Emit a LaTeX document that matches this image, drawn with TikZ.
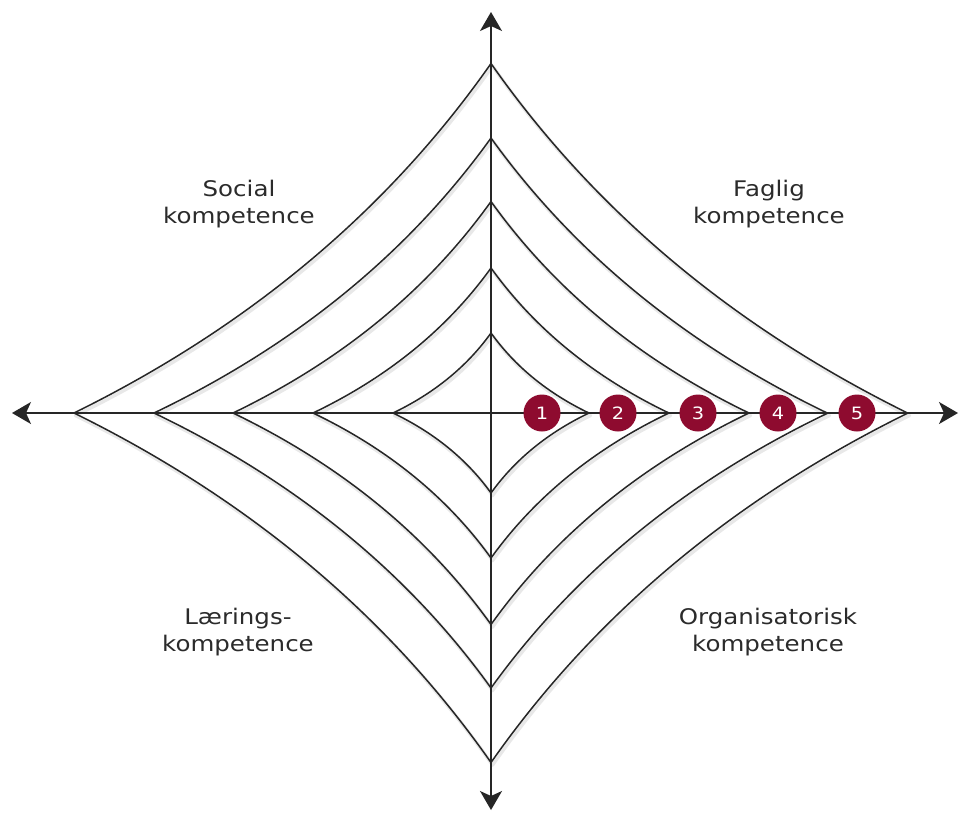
\documentclass[tikz,border=0pt]{standalone}
\usepackage{fontspec}
\usetikzlibrary{arrows.meta}
\newfontfamily\labelfont[FakeStretch=1.14]{DejaVu Sans}
\definecolor{crimson}{HTML}{8E0B2F}
\definecolor{inkgray}{HTML}{262626}
\definecolor{textgray}{HTML}{2B2B2B}
\tikzset{
  starline/.style={draw=inkgray, line width=1.5pt, line join=miter},
  starshadow/.style={draw=black!9, line width=3.5pt, line join=round},
  axisline/.style={draw=inkgray, line width=1.5pt,
    arrows={Stealth[length=19pt, width=22pt, inset=5pt]-Stealth[length=19pt, width=22pt, inset=5pt]}},
  badge/.style={circle, fill=crimson, text=white, minimum size=37pt, inner sep=0pt,
    font=\labelfont\fontsize{17}{17}\selectfont},
  area/.style={align=center, text=textgray, anchor=base,
    font=\labelfont\fontsize{21.5}{26.5}\selectfont},
}
% one concave four-pointed star, half-width #1 and half-height #2 (px)
\newcommand\fourstar[3]{%
  \path[#3, xscale=#1, yscale=#2]
    (1,0) .. controls (0.58,0.2467) and (0.2467,0.58) .. (0,1)
          .. controls (-0.2467,0.58) and (-0.58,0.2467) .. (-1,0)
          .. controls (-0.58,-0.2467) and (-0.2467,-0.58) .. (0,-1)
          .. controls (0.2467,-0.58) and (0.58,-0.2467) .. cycle;}
\begin{document}
\begin{tikzpicture}[x=1pt, y=-1pt]
  \useasboundingbox (0,0) rectangle (961,812);
  \fill[white] (0,0) rectangle (961,812);

  % soft shadows under the star outlines
  \begin{scope}[shift={(492.5,415.5)}]
    \foreach \w/\h in {98/80, 178/145, 258/211.5, 337/275, 417/349.5}
      {\fourstar{\w}{\h}{starshadow}}
  \end{scope}

  % the five nested stars
  \begin{scope}[shift={(491,413)}]
    \foreach \w/\h in {98/80, 178/145, 258/211.5, 337/275, 417/349.5}
      {\fourstar{\w}{\h}{starline}}
  \end{scope}

  % axes
  \coordinate (left)   at (12,413);
  \coordinate (right)  at (958,413);
  \coordinate (top)    at (491,12);
  \coordinate (bottom) at (491,810);
  \draw[axisline] (left) -- (right);
  \draw[axisline] (top) -- (bottom);

  % level markers
  \node[badge] (n1) at (542,413) {1};
  \node[badge] (n2) at (618,413) {2};
  \node[badge] (n3) at (698,413) {3};
  \node[badge] (n4) at (778,413) {4};
  \node[badge] (n5) at (857,413) {5};

  % quadrant labels (anchored at the baseline of the second line)
  \node[area] (social)  at (239,223) {Social\\kompetence};
  \node[area] (faglig)  at (769,223) {Faglig\\kompetence};
  \node[area] (laering) at (238,651) {Lærings-\\kompetence};
  \node[area] (organis) at (768,651) {Organisatorisk\\kompetence};
\end{tikzpicture}
\end{document}
